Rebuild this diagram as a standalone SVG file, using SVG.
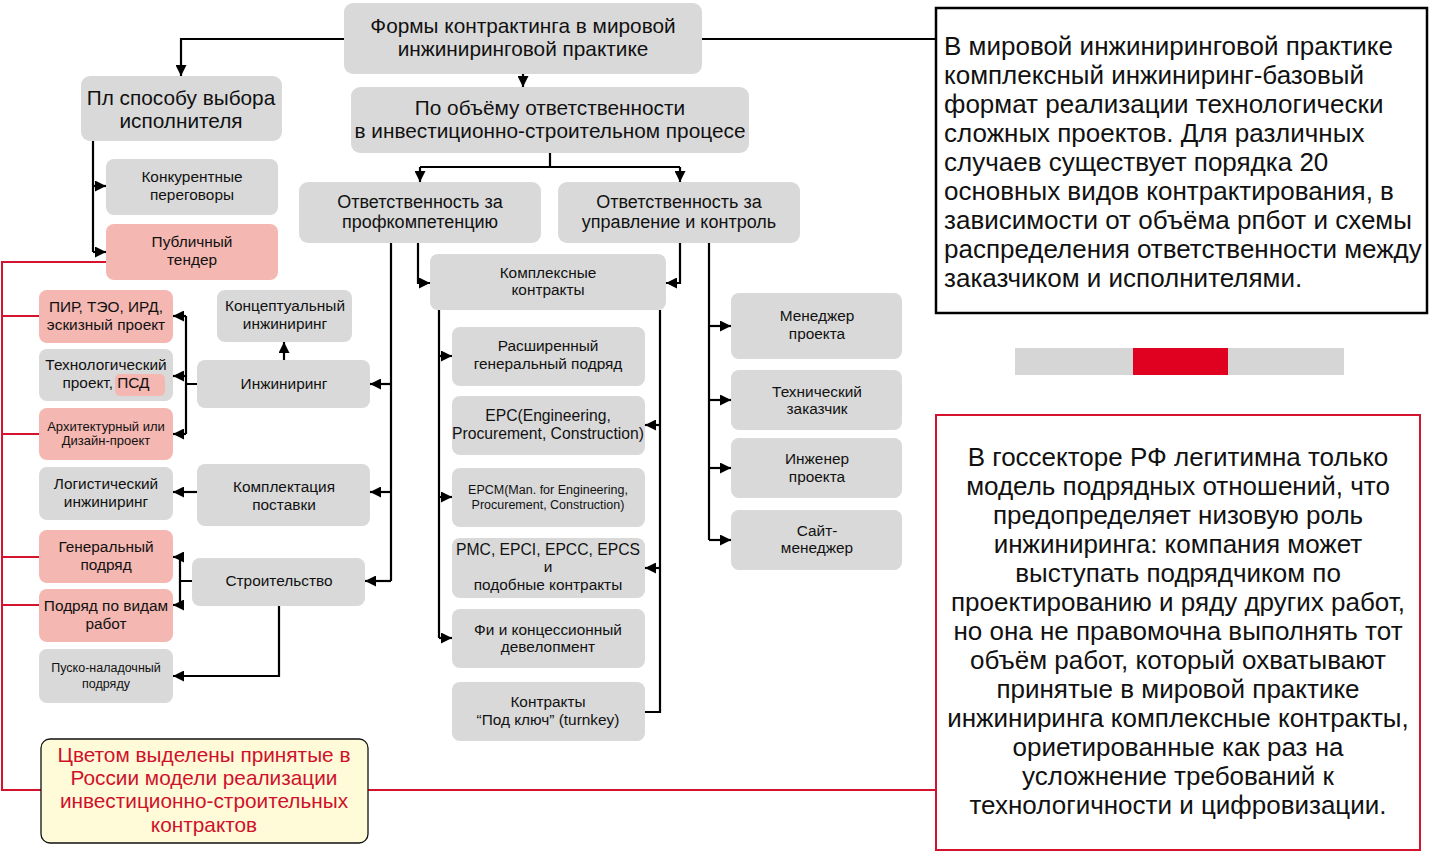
<svg xmlns="http://www.w3.org/2000/svg" width="1431" height="852" viewBox="0 0 1431 852">
<defs>
<marker id="a" viewBox="0 0 10 10" refX="10" refY="5" markerWidth="11" markerHeight="11" markerUnits="userSpaceOnUse" orient="auto"><path d="M0,0 L10,5 L0,10z" fill="#000"/></marker>
<style>
text{font-family:"Liberation Sans",Arial,sans-serif;fill:#111;text-anchor:middle}
.g{fill:#d9d9d9}
.p{fill:#f4b7b1}
.c{fill:none;stroke:#000;stroke-width:2.2}
.ca{fill:none;stroke:#000;stroke-width:2.2;marker-end:url(#a)}
.r{fill:none;stroke:#d5132f;stroke-width:2}
.f20{font-size:20.8px}
.f18{font-size:18px}
.f16{font-size:15.7px}
.f15{font-size:15.4px}
.f13{font-size:13px}
.f12{font-size:12.5px}
.big{font-size:26px}
.l{text-anchor:start}
</style>
</defs>
<rect width="1431" height="852" fill="#fff"/>

<g id="connectors">
<path class="ca" d="M344,39 H181 V76"/>
<path class="c" d="M702,39 H936"/>
<path class="ca" d="M523,74 V87"/>
<path class="c" d="M550,153 V167 M420,167 H680"/>
<path class="ca" d="M420,167 V182"/>
<path class="ca" d="M680,167 V182"/>
<path class="c" d="M93,141 V252"/>
<path class="ca" d="M93,186 H106"/>
<path class="ca" d="M93,252 H106"/>
<path class="c" d="M391,243 V581"/>
<path class="ca" d="M391,384 H370"/>
<path class="ca" d="M391,492 H370"/>
<path class="ca" d="M391,581 H365"/>
<path class="ca" d="M418,243 V283 H430"/>
<path class="ca" d="M680,243 V283 H666"/>
<path class="c" d="M709,243 V540"/>
<path class="ca" d="M709,326 H731"/>
<path class="ca" d="M709,400 H731"/>
<path class="ca" d="M709,468 H731"/>
<path class="ca" d="M709,540 H731"/>
<path class="c" d="M439,310 V638"/>
<path class="ca" d="M439,356 H452"/>
<path class="ca" d="M439,497 H452"/>
<path class="ca" d="M439,638 H452"/>
<path class="c" d="M660,310 V712 H645"/>
<path class="ca" d="M660,425 H645"/>
<path class="ca" d="M660,568 H645"/>
<path class="c" d="M197,384 H186 M186,316 V434"/>
<path class="ca" d="M186,316 H173"/>
<path class="ca" d="M186,376 H173"/>
<path class="ca" d="M186,434 H173"/>
<path class="ca" d="M284,360 V342"/>
<path class="ca" d="M197,492 H173"/>
<path class="c" d="M192,581 H180 M180,557 V605"/>
<path class="ca" d="M180,557 H173"/>
<path class="ca" d="M180,605 H173"/>
<path class="ca" d="M279,606 V676 H173"/>
<path class="r" d="M106,262 H2 V790 H41 M2,316 H39 M2,434 H39 M2,557 H39 M2,605 H39 M368,790 H936"/>
</g>

<g id="n-top"><rect class="g" x="344" y="3" width="358" height="71" rx="9"/><text class="f20" x="523" y="33">Формы контрактинга в мировой</text><text class="f20" x="523" y="56">инжиниринговой практике</text></g>
<g id="n-sposob"><rect class="g" x="81" y="76" width="201" height="65" rx="9"/><text class="f20" x="181" y="105">Пл способу выбора</text><text class="f20" x="181" y="128">исполнителя</text></g>
<g id="n-obem"><rect class="g" x="351" y="87" width="398" height="66" rx="9"/><text class="f20" x="550" y="115">По объёму ответственности</text><text class="f20" x="550" y="138">в инвестиционно-строительном процесе</text></g>
<g id="n-konk"><rect class="g" x="106" y="159" width="172" height="56" rx="8"/><text class="f15" x="192" y="182">Конкурентные</text><text class="f15" x="192" y="200">переговоры</text></g>
<g id="n-publ"><rect class="p" x="106" y="224" width="172" height="56" rx="8"/><text class="f15" x="192" y="247">Публичный</text><text class="f15" x="192" y="265">тендер</text></g>
<g id="n-prof"><rect class="g" x="299" y="182" width="242" height="61" rx="9"/><text class="f18" x="420" y="208">Ответственность за</text><text class="f18" x="420" y="228">профкомпетенцию</text></g>
<g id="n-upr"><rect class="g" x="558" y="182" width="242" height="61" rx="9"/><text class="f18" x="679" y="208">Ответственность за</text><text class="f18" x="679" y="228">управление и контроль</text></g>
<g id="n-kompl"><rect class="g" x="430" y="254" width="236" height="56" rx="8"/><text class="f15" x="548" y="278">Комплексные</text><text class="f15" x="548" y="295">контракты</text></g>
<g id="n-konc"><rect class="g" x="217" y="290" width="135" height="52" rx="8"/><text class="f15" x="285" y="311">Концептуальный</text><text class="f15" x="285" y="329">инжиниринг</text></g>
<g id="n-pir"><rect class="p" x="39" y="290" width="134" height="53" rx="8"/><text class="f15" x="106" y="312">ПИР, ТЭО, ИРД,</text><text class="f15" x="106" y="330">эскизный проект</text></g>
<g id="n-tech"><rect class="g" x="39" y="349" width="134" height="52" rx="8"/><rect class="p" x="115" y="374" width="50" height="22" rx="5"/><text class="f15" x="106" y="370">Технологический</text><text class="f15" x="106" y="388">проект, ПСД</text></g>
<g id="n-inzh"><rect class="g" x="197" y="360" width="173" height="48" rx="8"/><text class="f15" x="284" y="389">Инжиниринг</text></g>
<g id="n-arch"><rect class="p" x="39" y="408" width="134" height="52" rx="8"/><text class="f13" x="106" y="431">Архитектурный или</text><text class="f13" x="106" y="445">Дизайн-проект</text></g>
<g id="n-log"><rect class="g" x="39" y="467" width="134" height="53" rx="8"/><text class="f15" x="106" y="489">Логистический</text><text class="f15" x="106" y="507">инжиниринг</text></g>
<g id="n-komplekt"><rect class="g" x="197" y="464" width="173" height="62" rx="8"/><text class="f15" x="284" y="492">Комплектация</text><text class="f15" x="284" y="510">поставки</text></g>
<g id="n-gen"><rect class="p" x="39" y="530" width="134" height="53" rx="8"/><text class="f15" x="106" y="552">Генеральный</text><text class="f15" x="106" y="570">подряд</text></g>
<g id="n-vid"><rect class="p" x="39" y="589" width="134" height="53" rx="8"/><text class="f15" x="106" y="611">Подряд по видам</text><text class="f15" x="106" y="629">работ</text></g>
<g id="n-stroi"><rect class="g" x="192" y="558" width="173" height="48" rx="8"/><text class="f15" x="279" y="586">Строительство</text></g>
<g id="n-pusk"><rect class="g" x="39" y="649" width="134" height="54" rx="8"/><text class="f12" x="106" y="672">Пуско-наладочный</text><text class="f12" x="106" y="688">подряду</text></g>
<g id="n-legend"><rect x="41" y="739" width="327" height="104" rx="9" fill="#fffbd9" stroke="#111" stroke-width="1.3"/><text class="f20" x="204" y="762" style="fill:#d0112b">Цветом выделены принятые в</text><text class="f20" x="204" y="785" style="fill:#d0112b">России модели реализации</text><text class="f20" x="204" y="808" style="fill:#d0112b">инвестиционно-строительных</text><text class="f20" x="204" y="832" style="fill:#d0112b">контрактов</text></g>
<g id="n-rgp"><rect class="g" x="452" y="327" width="193" height="59" rx="8"/><text class="f15" x="548" y="351">Расширенный</text><text class="f15" x="548" y="369">генеральный подряд</text></g>
<g id="n-epc"><rect class="g" x="452" y="396" width="193" height="59" rx="8"/><text class="f16" x="548" y="421">EPC(Engineering,</text><text class="f16" x="548" y="439">Procurement, Construction)</text></g>
<g id="n-epcm"><rect class="g" x="452" y="468" width="193" height="59" rx="8"/><text class="f12" x="548" y="494">EPCM(Man. for Engineering,</text><text class="f12" x="548" y="509">Procurement, Construction)</text></g>
<g id="n-pmc"><rect class="g" x="452" y="538" width="193" height="60" rx="8"/><text class="f16" x="548" y="555">PMC, EPCI, EPCC, EPCS</text><text class="f15" x="548" y="572">и</text><text class="f15" x="548" y="590">подобные контракты</text></g>
<g id="n-fi"><rect class="g" x="452" y="609" width="193" height="59" rx="8"/><text class="f15" x="548" y="635">Фи и концессионный</text><text class="f15" x="548" y="652">девелопмент</text></g>
<g id="n-turnkey"><rect class="g" x="452" y="682" width="193" height="59" rx="8"/><text class="f15" x="548" y="707">Контракты</text><text class="f15" x="548" y="725">“Под ключ” (turnkey)</text></g>
<g id="n-manager"><rect class="g" x="731" y="293" width="171" height="66" rx="8"/><text class="f15" x="817" y="321">Менеджер</text><text class="f15" x="817" y="339">проекта</text></g>
<g id="n-tz"><rect class="g" x="731" y="370" width="171" height="60" rx="8"/><text class="f15" x="817" y="397">Технический</text><text class="f15" x="817" y="414">заказчик</text></g>
<g id="n-eng"><rect class="g" x="731" y="438" width="171" height="60" rx="8"/><text class="f15" x="817" y="464">Инженер</text><text class="f15" x="817" y="482">проекта</text></g>
<g id="n-site"><rect class="g" x="731" y="510" width="171" height="60" rx="8"/><text class="f15" x="817" y="536">Сайт-</text><text class="f15" x="817" y="553">менеджер</text></g>

<g id="n-note1"><rect x="936" y="8" width="491" height="305" fill="#fff" stroke="#000" stroke-width="2.5"/>
<g class="big"><text class="l" x="944" y="55">В мировой инжиниринговой практике</text><text class="l" x="944" y="84">комплексный инжиниринг-базовый</text><text class="l" x="944" y="113">формат реализации технологически</text><text class="l" x="944" y="142">сложных проектов. Для различных</text><text class="l" x="944" y="171">случаев существует порядка 20</text><text class="l" x="944" y="200">основных видов контрактирования, в</text><text class="l" x="944" y="229">зависимости от объёма рпбот и схемы</text><text class="l" x="944" y="258">распределения ответственности между</text><text class="l" x="944" y="287">заказчиком и исполнителями.</text></g></g>

<g id="bar"><rect x="1015" y="348" width="329" height="27" fill="#d6d6d6"/><rect x="1133" y="348" width="95" height="27" fill="#e00020"/></g>

<g id="n-note2"><rect x="936" y="415" width="484" height="435" fill="#fff" stroke="#d5132f" stroke-width="2"/>
<g class="big"><text x="1178" y="466">В госсекторе РФ легитимна только</text><text x="1178" y="495">модель подрядных отношений, что</text><text x="1178" y="524">предопределяет низовую роль</text><text x="1178" y="553">инжиниринга: компания может</text><text x="1178" y="582">выступать подрядчиком по</text><text x="1178" y="611">проектированию и ряду других работ,</text><text x="1178" y="640">но она не правомочна выполнять тот</text><text x="1178" y="669">объём работ, который охватывают</text><text x="1178" y="698">принятые в мировой практике</text><text x="1178" y="727">инжиниринга комплексные контракты,</text><text x="1178" y="756">ориетированные как раз на</text><text x="1178" y="785">усложнение требований к</text><text x="1178" y="814">технологичности и цифровизации.</text></g></g>
</svg>
